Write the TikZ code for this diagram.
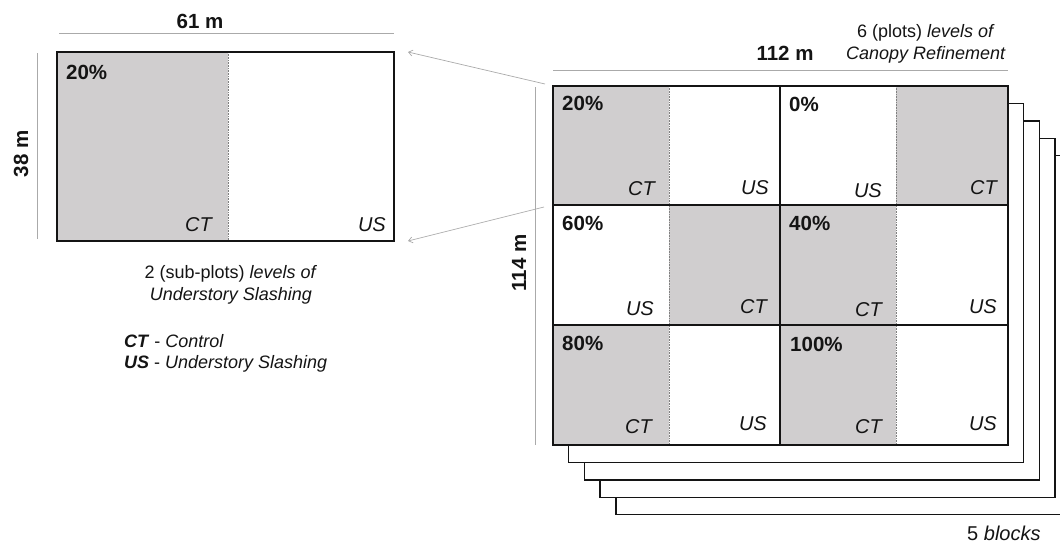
\documentclass[tikz,border=0pt]{standalone}
\usepackage{fontspec}
\setmainfont{Liberation Sans}
\usetikzlibrary{arrows.meta}
\definecolor{plotgrey}{RGB}{208,206,207}
\definecolor{dimgrey}{RGB}{170,170,170}
\definecolor{inkblack}{RGB}{20,20,20}
\begin{document}
\begin{tikzpicture}[x=1pt,y=-1pt,
  blockframe/.style={draw=inkblack, line width=1.4pt, fill=white},
  mainframe/.style={draw=inkblack, line width=1.9pt},
  subdivide/.style={draw=gray, line width=0.6pt, densely dotted},
  dimline/.style={draw=dimgrey, line width=0.9pt},
  linkarrow/.style={draw=dimgrey, line width=0.7pt, -{Straight Barb[length=4pt,width=6pt]}},
  pct/.style={font=\fontsize{20.5}{24}\selectfont\bfseries, text=inkblack, inner sep=0pt, anchor=base west},
  dimtext/.style={font=\fontsize{20.5}{24}\selectfont\bfseries, text=inkblack, inner sep=0pt, anchor=base},
  trt/.style={font=\fontsize{20}{24}\selectfont\itshape, text=inkblack, inner sep=0pt, anchor=base east},
  desc/.style={font=\fontsize{18}{22}\selectfont, text=inkblack, inner sep=0pt}
]
\useasboundingbox (0,0) rectangle (1060,544);
\begin{scope}
\clip (0,0) rectangle (1060,544);
% ---------- stacked blocks behind ----------
\foreach \k in {4,3,2,1} {
  \draw[blockframe] ({553+15.7*\k},{86+17.4*\k}) rectangle ({1008+15.7*\k},{445+17.4*\k});
}
\end{scope}
% ---------- main block ----------
\node[draw=none, fill=white, minimum width=455pt, minimum height=359pt, inner sep=0pt, anchor=north west] (main) at (553,86) {};
\fill[plotgrey] (553,86) rectangle (669,205);
\fill[plotgrey] (896,86) rectangle (1008,205);
\fill[plotgrey] (669,205) rectangle (780,325);
\fill[plotgrey] (780,205) rectangle (896,325);
\fill[plotgrey] (553,325) rectangle (669,445);
\fill[plotgrey] (780,325) rectangle (896,445);
\draw[subdivide] (669,86) -- (669,445);
\draw[subdivide] (896,86) -- (896,445);
\draw[mainframe] (780,86) -- (780,445);
\draw[mainframe] (553,205) -- (1008,205);
\draw[mainframe] (553,325) -- (1008,325);
\draw[mainframe] (main.north west) rectangle (main.south east);
% labels row 1
\node[pct] (p20) at (562,110) {20\%};
\node[trt] (c11) at (655,195) {CT};
\node[trt] (u11) at (769,194) {US};
\node[pct] (p0) at (789,111) {0\%};
\node[trt] (u12) at (882,197) {US};
\node[trt] (c12) at (997,194) {CT};
% row 2
\node[pct] (p60) at (562,230) {60\%};
\node[trt] (u21) at (654,315) {US};
\node[trt] (c21) at (767,313) {CT};
\node[pct] (p40) at (789,230) {40\%};
\node[trt] (c22) at (882,316) {CT};
\node[trt] (u22) at (997,313) {US};
% row 3
\node[pct] (p80) at (562,350) {80\%};
\node[trt] (c31) at (652,433) {CT};
\node[trt] (u31) at (767,430) {US};
\node[pct] (p100) at (790,351) {100\%};
\node[trt] (c32) at (882,433) {CT};
\node[trt] (u32) at (997,430) {US};
% dimensions of main block
\coordinate (mtl) at (553,70);
\coordinate (mtr) at (1008,70);
\draw[dimline] (mtl) -- (mtr);
\node[dimtext] (d112) at (785,60) {112 m};
\coordinate (mlt) at (535,87);
\coordinate (mlb) at (535,445);
\draw[dimline] (mlt) -- (mlb);
\node[dimtext, rotate=90] (d114) at (526,263) {114 m};
\node[desc, anchor=base] (plots1) at (926,37) {6 (plots) \textit{levels of}};
\node[desc, anchor=base] (plots2) at (926,59) {\textit{Canopy Refinement}};
\node[desc, anchor=base west, font=\fontsize{20}{24}\selectfont] (blocks) at (967,540) {5 \textit{blocks}};
% ---------- sub-plot box ----------
\node[draw=none, fill=white, minimum width=337pt, minimum height=189pt, inner sep=0pt, anchor=north west] (sub) at (57,52) {};
\fill[plotgrey] (57,52) rectangle (228,241);
\draw[subdivide] (228,52) -- (228,241);
\draw[mainframe] (sub.north west) rectangle (sub.south east);
\node[pct] (s20) at (66,79) {20\%};
\node[trt] (sct) at (212,231) {CT};
\node[trt] (sus) at (386,231) {US};
\coordinate (stl) at (59,33);
\coordinate (str) at (394,33);
\draw[dimline] (stl) -- (str);
\node[dimtext] (d61) at (200,28) {61 m};
\coordinate (slt) at (37,53);
\coordinate (slb) at (37,239);
\draw[dimline] (slt) -- (slb);
\node[dimtext, rotate=90] (d38) at (28,154) {38 m};
\node[desc, anchor=base] (sl1) at (231,278) {2 (sub-plots) \textit{levels of}};
\node[desc, anchor=base] (sl2) at (231,300) {\textit{Understory Slashing}};
\node[desc, anchor=base west] (k1) at (124,347) {\textbf{\textit{CT}} - \textit{Control}};
\node[desc, anchor=base west] (k2) at (124,368) {\textbf{\textit{US}} - \textit{Understory Slashing}};
% ---------- link arrows ----------
\coordinate (a1s) at (545,84);
\coordinate (a1e) at (408,52);
\coordinate (a2s) at (544,207);
\coordinate (a2e) at (408,241);
\draw[linkarrow] (a1s) -- (a1e);
\draw[linkarrow] (a2s) -- (a2e);
\end{tikzpicture}
\end{document}
